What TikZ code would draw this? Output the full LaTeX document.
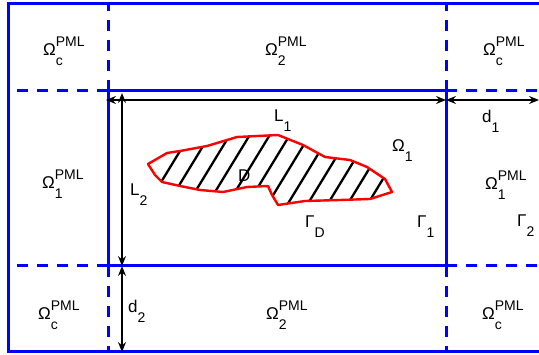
\documentclass[tikz,border=0pt]{standalone}
\usepackage{fontspec}
\setmainfont{Liberation Sans}
\usetikzlibrary{arrows.meta}

\newcommand{\scr}{\fontsize{14}{14}\selectfont}
\newcommand{\subsup}[3]{#1\rlap{\raisebox{0.55em}{\scr #3}}\raisebox{-0.55em}{\scr #2}}
\newcommand{\subonly}[2]{#1\raisebox{-0.55em}{\scr #2}}

\begin{document}
\begin{tikzpicture}[x=1pt,y=-1pt,wall/.style={blue,line width=3pt},pml/.style={blue,line width=3pt,dash pattern=on 11pt off 9pt},dim/.style={line width=2.4pt,{Stealth[length=10pt,width=8pt,inset=3.5pt]}-{Stealth[length=10pt,width=8pt,inset=3.5pt]}},hatch/.style={line width=2.3pt},lab/.style={anchor=base west,inner sep=0pt,font=\fontsize{17}{17}\selectfont}]
\useasboundingbox (0,0) rectangle (539,355);
\clip (0,0) rectangle (539,355);
\coordinate (OTL) at (8,4);
\coordinate (OTR) at (560,4);
\coordinate (OBL) at (8,352);
\coordinate (OBR) at (560,352);
\coordinate (A) at (108,91);
\coordinate (B) at (446,91);
\coordinate (C) at (446,266);
\coordinate (D) at (108,266);
\draw[wall] (OTR) -- (OTL) -- (OBL) -- (OBR);
\draw[wall] (A) rectangle (C);
\draw[pml] (A) -- (A |- OTL);
\draw[pml] (A) -- (A -| OTL);
\draw[pml] (B) -- (B |- OTL);
\draw[pml] (B) -- (B -| OTR);
\draw[pml] (C) -- (C |- OBL);
\draw[pml] (C) -- (C -| OTR);
\draw[pml] (D) -- (D |- OBL);
\draw[pml] (D) -- (D -| OTL);
% scatterer
\def\scatterer{(148,164) -- (167,153) -- (180,151) -- (207,146) -- (237,137) -- (278,135) -- (303,145) -- (325,157) -- (350,160) -- (367,167) -- (385,179) -- (392,192) -- (370,199) -- (340,200) -- (305,201) -- (278,205) -- (272,195) -- (268,186) -- (247,187) -- (223,192) -- (200,190) -- (180,186) -- (162,182) -- (155,175) -- cycle}
\begin{scope}
\clip \scatterer;
\foreach \k in {0,...,13}
  \draw[hatch] ({141+20*\k},215) -- ++(61,-100);
\end{scope}
\draw[red,line width=2.4pt,line join=round] \scatterer;
% dimensions
\coordinate (l1a) at (106,100);
\coordinate (l1b) at (446,100);
\coordinate (d1b) at (539,100);
\coordinate (l2a) at (122,93);
\coordinate (l2b) at (122,266);
\coordinate (d2b) at (122,352);
\draw[dim] (l1a) -- (l1b);
\draw[dim] (l1b) -- (d1b);
\draw[dim] (l2a) -- (l2b);
\draw[dim] (l2b) -- (d2b);
% labels
\node[lab] (omctl) at (43,56) {\subsup{Ω}{c}{PML}};
\node[lab] (om2t) at (265,56) {\subsup{Ω}{2}{PML}};
\node[lab] (omctr) at (483,56) {\subsup{Ω}{c}{PML}};
\node[lab] (om1l) at (42,189) {\subsup{Ω}{1}{PML}};
\node[lab] (om1r) at (485,190) {\subsup{Ω}{1}{PML}};
\node[lab] (omcbl) at (38,320) {\subsup{Ω}{c}{PML}};
\node[lab] (om2b) at (266,320) {\subsup{Ω}{2}{PML}};
\node[lab] (omcbr) at (482,320) {\subsup{Ω}{c}{PML}};
\node[lab] (L1) at (274,122) {\subonly{L}{1}};
\node[lab] (d1) at (482,123) {\subonly{d}{1}};
\node[lab] (om1) at (392,152) {\subonly{Ω}{1}};
\node[lab] (Dlab) at (238,182) {D};
\node[lab] (L2) at (130,196) {\subonly{L}{2}};
\node[lab] (GD) at (305,228) {\subonly{Γ}{D}};
\node[lab] (G1) at (417,228) {\subonly{Γ}{1}};
\node[lab] (G2) at (517,227) {\subonly{Γ}{2}};
\node[lab] (d2) at (128,313) {\subonly{d}{2}};
\end{tikzpicture}
\end{document}
